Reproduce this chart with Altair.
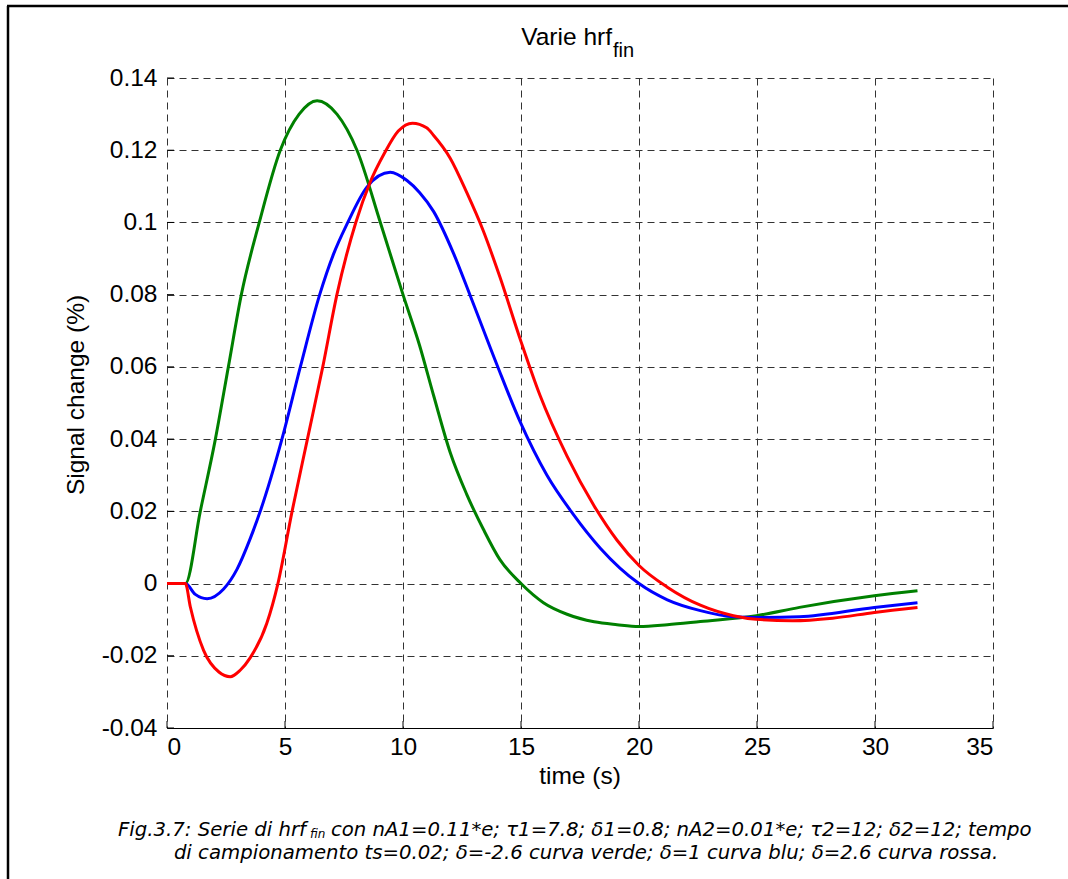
import altair as alt
import pandas as pd

# ---- data ----
green_t = [0, 0.78, 1.41, 2.05, 2.6, 3.15, 3.91, 4.8, 5.6, 6.36, 7.2, 8.05, 9.04, 10.0, 10.7, 11.3, 12.0, 12.7, 13.4, 14.1, 15.0, 15.95, 16.95, 18.1, 19.07, 20.0, 21.2, 22.6, 24.97, 26.8, 29.97, 31.8]
green_v = [0, 0, 0.020, 0.040, 0.060, 0.080, 0.100, 0.120, 0.130, 0.1337, 0.130, 0.120, 0.100, 0.080, 0.066, 0.052, 0.0363, 0.0247, 0.0151, 0.0067, 0.0, -0.0053, -0.0085, -0.0106, -0.0114, -0.0119, -0.0114, -0.0105, -0.0089, -0.0066, -0.0034, -0.002]

blue_t = [0, 0.78, 1.2, 1.7, 2.4, 2.97, 3.53, 3.95, 4.87, 5.65, 6.47, 7.06, 7.63, 8.47, 9.46, 10.17, 10.7, 11.3, 12.15, 12.85, 13.98, 14.97, 16.1, 17.2, 18.36, 20.0, 21.2, 22.6, 24.0, 24.97, 26.8, 29.97, 31.8]
blue_v = [0, 0, -0.003, -0.0042, -0.0015, 0.004, 0.0125, 0.020, 0.040, 0.060, 0.080, 0.0913, 0.0996, 0.1098, 0.1139, 0.1116, 0.1083, 0.103, 0.0913, 0.0797, 0.0606, 0.0447, 0.030, 0.0193, 0.0098, 0.0, -0.0045, -0.0075, -0.0092, -0.0094, -0.0092, -0.0066, -0.0053]

red_t = [0, 0.78, 0.99, 1.55, 2.2, 2.68, 3.1, 3.53, 4.23, 4.7, 5.3, 5.95, 6.6, 7.2, 8.0, 8.6, 9.2, 9.8, 10.4, 11.0, 11.3, 12.0, 12.7, 13.4, 14.1, 15.0, 15.8, 16.95, 18.1, 19.07, 20.0, 21.2, 22.6, 24.0, 24.97, 26.5, 28.2, 29.97, 31.8]
red_v = [0, 0, -0.0065, -0.0185, -0.0245, -0.0258, -0.024, -0.0205, -0.011, 0.0, 0.020, 0.040, 0.060, 0.080, 0.100, 0.111, 0.119, 0.1253, 0.1275, 0.1262, 0.1241, 0.1178, 0.1083, 0.0977, 0.085, 0.067, 0.0522, 0.0353, 0.0215, 0.012, 0.005, -0.001, -0.006, -0.0089, -0.0099, -0.0103, -0.0096, -0.008, -0.0066]

x_ticks = [0, 5, 10, 15, 20, 25, 30, 35]
y_ticks = [-0.04, -0.02, 0, 0.02, 0.04, 0.06, 0.08, 0.1, 0.12, 0.14]

title_main = ["Varie hrf"]
title_sub = ["fin"]
x_title = ["time (s)"]
y_title = ["Signal change (%)"]
cap1_a = ["Fig.3.7: Serie di hrf"]
cap1_sub = ["fin"]
cap1_b = ["con nA1=0.11*e;  τ1=7.8;  δ1=0.8;  nA2=0.01*e;  τ2=12;  δ2=12;  tempo"]
cap2 = ["di campionamento ts=0.02; δ=-2.6 curva verde; δ=1 curva blu; δ=2.6 curva rossa."]

W, H = 826, 650
FONT = "Liberation Sans"
CAPFONT = "DejaVu Sans"
FS = 24.5
CFS = 19.7

xs = alt.Scale(domain=[0, 35], nice=False, zero=False)
ys = alt.Scale(domain=[-0.04, 0.14], nice=False, zero=False)

axis_x = alt.Axis(values=x_ticks, title=None, grid=True, gridDash=[7, 5], gridColor="#333",
                  gridOpacity=1, ticks=False, domain=True, domainColor="#000", domainWidth=1,
                  labelFont=FONT, labelFontSize=FS, labelColor="#000", labelPadding=7)
axis_y = alt.Axis(values=y_ticks, title=None, grid=True, gridDash=[7, 5], gridColor="#333",
                  gridOpacity=1, ticks=False, domain=False,
                  labelFont=FONT, labelFontSize=FS, labelColor="#000", labelPadding=10,
                  labelExpr="toString(datum.value)")


def series(t, v, color):
    df = pd.DataFrame({"t": t, "v": v})
    return alt.Chart(df).mark_line(color=color, strokeWidth=3, interpolate="monotone").encode(
        x=alt.X("t:Q", scale=xs, axis=axis_x),
        y=alt.Y("v:Q", scale=ys, axis=axis_y),
    )


def txt(label, x, y, size, align="center", font=FONT, italic=False, angle=None, baseline="alphabetic"):
    kw = dict(font=font, fontSize=size, align=align, baseline=baseline, color="#000")
    if italic:
        kw["fontStyle"] = "italic"
    if angle is not None:
        kw["angle"] = angle
    return alt.Chart(pd.DataFrame({"label": label})).mark_text(**kw).encode(
        x=alt.value(x), y=alt.value(y), text="label:N")


def rule(x1, x2, y1, y2, w):
    return alt.Chart(pd.DataFrame({"a": [0]})).mark_rule(color="#000", strokeWidth=w).encode(
        x=alt.value(x1), x2=alt.value(x2), y=alt.value(y1), y2=alt.value(y2))


# inside tick marks (MATLAB style) on the bottom and left axes
xtick_marks = alt.Chart(pd.DataFrame({"t": x_ticks})).mark_rule(color="#000", strokeWidth=1).encode(
    x=alt.X("t:Q", scale=xs, axis=axis_x), y=alt.value(H), y2=alt.value(H - 7))
ytick_marks = alt.Chart(pd.DataFrame({"v": y_ticks})).mark_rule(color="#000", strokeWidth=1).encode(
    y=alt.Y("v:Q", scale=ys, axis=axis_y), x=alt.value(0), x2=alt.value(7))

layers = [
    xtick_marks,
    ytick_marks,
    series(green_t, green_v, "#008000"),
    series(blue_t, blue_v, "#0000FF"),
    series(red_t, red_v, "#FF0000"),
    txt(title_main, 445, -33, FS, align="right"),
    txt(title_sub, 446, -21, 20, align="left"),
    txt(x_title, 413, 706, FS),
    txt(y_title, -90, 317, FS, angle=270, baseline="middle"),
    txt(cap1_a, 139, 758, CFS, align="right", font=CAPFONT, italic=True),
    txt(cap1_sub, 143, 760, 12, align="left", font=CAPFONT, italic=True),
    txt(cap1_b, 164, 758, CFS, align="left", font=CAPFONT, italic=True),
    txt(cap2, 419, 781, CFS, font=CAPFONT, italic=True),
    rule(-160, 901, -72, -72, 2.5),
    rule(-159, -159, -72, 801, 2.5),
]

chart = alt.layer(*layers).properties(
    width=W, height=H,
    autosize=alt.AutoSizeParams(type="none"),
    padding={"left": 167, "top": 78, "right": 75, "bottom": 151},
    background="white",
).configure_view(strokeWidth=0)

chart.save("out.html", embed_options={"renderer": "svg", "actions": False})
